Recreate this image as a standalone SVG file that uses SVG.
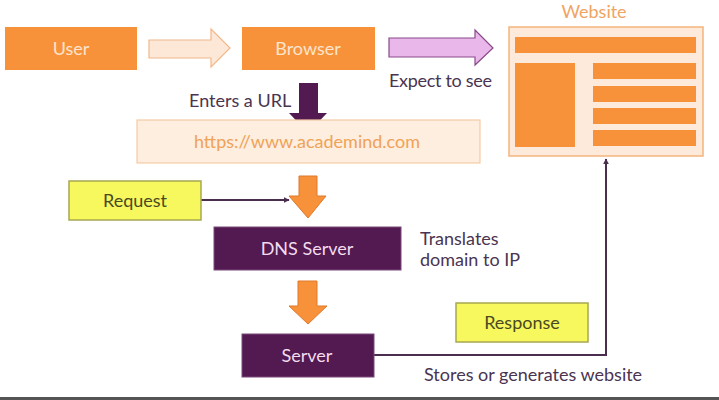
<svg xmlns="http://www.w3.org/2000/svg" width="719" height="400" viewBox="0 0 719 400">
<defs>
<style>
text{font-family:Lato,"Noto Sans","Liberation Sans",sans-serif;font-size:18px;}
.orange{fill:#f7923a;}
.lt{fill:#fde4cc;text-anchor:middle;}
.purple{fill:#521a50;stroke:#7a4a7a;stroke-width:1;}
.pt{fill:#f3dcef;text-anchor:middle;}
.yellow{fill:#f7f75e;stroke:#a8a850;stroke-width:1.5;}
.yt{fill:#4a4a22;text-anchor:middle;}
.label{fill:#4a3450;}
.oarrow{fill:#f7923a;stroke:#e0782a;stroke-width:1;}
.line{fill:none;stroke:#4a2e4e;stroke-width:2;}
</style>
<marker id="ah" viewBox="0 0 10 10" refX="9" refY="5" markerWidth="6" markerHeight="6" orient="auto" markerUnits="userSpaceOnUse">
<path d="M0,0 L10,5 L0,10 z" fill="#4a2e4e"/>
</marker>
</defs>
<rect width="719" height="400" fill="#ffffff"/>

<g id="connectors">
<path id="user-browser" d="M149,40 L211,40 L211,29 L230,48 L211,67 L211,58 L149,58 z" fill="#fde8d8" stroke="#f2b88a" stroke-width="1.2"/>
<path id="browser-website" d="M389,38 L475,38 L475,30 L493,48 L475,65 L475,57 L389,57 z" fill="#eab7ea" stroke="#8a4a8a" stroke-width="1.2"/>
<path id="browser-url" d="M299,83 L318,83 L318,113 L327,113 L308,133 L289,113 L299,113 z" fill="#531a52"/>
<path id="url-dns" class="oarrow" d="M299,176 L317,176 L317,196 L326,196 L308,218 L289,196 L299,196 z"/>
<line id="request-dns" class="line" x1="201" y1="200" x2="289" y2="200" marker-end="url(#ah)" stroke-width="1.5"/>
<path id="dns-server" class="oarrow" d="M298,281 L317,281 L317,306 L327,306 L308,324 L289,306 L298,306 z"/>
<polyline id="server-website" class="line" points="374,355 606,355 606,159" marker-end="url(#ah)"/>
</g>

<g id="user"><rect class="orange" x="5" y="27" width="132" height="43"/><text class="lt" x="71" y="55">User</text></g>
<g id="browser"><rect class="orange" x="242" y="27" width="133" height="43"/><text class="lt" x="308" y="55">Browser</text></g>
<g id="expect-label"><text class="label" x="389" y="87" textLength="103">Expect to see</text></g>
<g id="website">
<text x="594" y="18" fill="#f0a464" text-anchor="middle">Website</text>
<rect x="509" y="27" width="194" height="129" fill="#fdeadb" stroke="#f3b47c" stroke-width="1.5"/>
<rect class="orange" x="515" y="37" width="181" height="16"/>
<rect class="orange" x="515" y="63" width="60" height="84"/>
<rect class="orange" x="593" y="63" width="103" height="16"/>
<rect class="orange" x="593" y="86" width="103" height="16"/>
<rect class="orange" x="593" y="108" width="103" height="16"/>
<rect class="orange" x="593" y="130" width="103" height="16"/>
</g>
<g id="enters-label"><text class="label" x="189" y="107">Enters a URL</text></g>
<g id="url"><rect x="137" y="120" width="343" height="43" fill="#fdeee0" stroke="#f6cba4" stroke-width="1.2"/><text x="307" y="148" fill="#f0a256" text-anchor="middle">https://www.academind.com</text></g>
<g id="request"><rect class="yellow" x="69" y="181" width="132" height="39"/><text class="yt" x="135" y="207">Request</text></g>
<g id="dns"><rect class="purple" x="214" y="227" width="187" height="43"/><text class="pt" x="307" y="255">DNS Server</text></g>
<g id="translates-label"><text class="label" x="420" y="245">Translates</text><text class="label" x="420" y="266">domain to IP</text></g>
<g id="server"><rect class="purple" x="242" y="334" width="132" height="43"/><text class="pt" x="307" y="362">Server</text></g>
<g id="response"><rect class="yellow" x="456" y="303" width="132" height="39"/><text class="yt" x="522" y="329">Response</text></g>
<g id="stores-label"><text class="label" x="424" y="381">Stores or generates website</text></g>
<line x1="0" y1="398.5" x2="719" y2="398.5" stroke="#555555" stroke-width="3"/>
</svg>
